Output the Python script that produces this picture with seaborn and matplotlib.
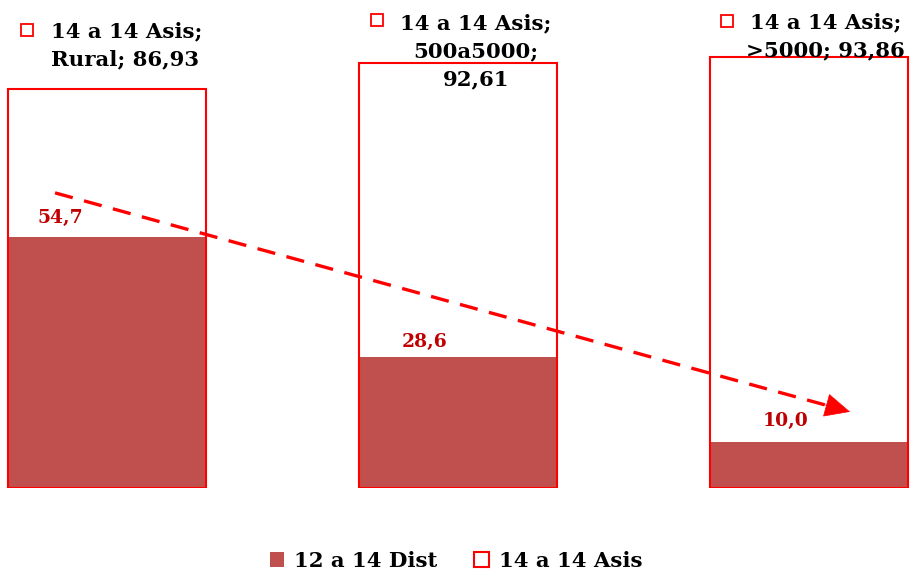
import matplotlib
matplotlib.use("Agg")
import matplotlib.pyplot as plt
from matplotlib.patches import Patch
import pandas as pd
import seaborn as sns

# --- data -------------------------------------------------------------
categories = ["Rural", "500a5000", ">5000"]
dist_12_14 = [54.7, 28.6, 10.0]      # 12 a 14 Dist
asis_14_14 = [86.93, 92.61, 93.86]   # 14 a 14 Asis
dist_labels = ["54,7", "28,6", "10,0"]
asis_labels = ["14 a 14 Asis;\nRural; 86,93",
               "14 a 14 Asis;\n500a5000;\n92,61",
               "14 a 14 Asis;\n>5000; 93,86"]
series_names = ["12 a 14 Dist", "14 a 14 Asis"]

df = pd.DataFrame({"zona": categories, "dist": dist_12_14, "asis": asis_14_14})

# --- style ------------------------------------------------------------
sns.set_theme(style="white")
plt.rcParams["font.family"] = ["DejaVu Serif", "DejaVu Sans"]
plt.rcParams["font.weight"] = "bold"
plt.rcParams["text.color"] = "black"

FILL = "#C0504D"
EDGE = "#FF0000"
LABEL_RED = "#C00000"

W, H, DPI = 912, 574, 100
fig = plt.figure(figsize=(W / DPI, H / DPI), dpi=DPI)
ymax = 105.0
px_per_unit = 4.59
ax_h = ymax * px_per_unit / H
ax_bottom = 86 / H
ax = fig.add_axes([0.0, ax_bottom, 1.0, ax_h])

bar_w = 0.564
sns.barplot(data=df, x="zona", y="dist", order=categories, color=FILL,
            width=bar_w, saturation=1, edgecolor="none", ax=ax, zorder=1)
sns.barplot(data=df, x="zona", y="asis", order=categories, color=EDGE,
            width=bar_w, saturation=1, facecolor="none", edgecolor=EDGE,
            linewidth=1.5, ax=ax, zorder=2)

step = 351.0
ax.set_xlim(-107 / step, (W - 107) / step)
ax.set_ylim(0, ymax)
ax.axis("off")

# value labels of the filled series
dist_offsets = [(-0.134, 4.1), (-0.094, 3.2), (-0.068, 4.6)]
for i, (v, txt) in enumerate(zip(dist_12_14, dist_labels)):
    dx, dy = dist_offsets[i]
    ax.text(i + dx, v + dy, txt, color=LABEL_RED, fontsize=13.5,
            fontweight="bold", ha="center", va="center", zorder=5)

# data-label callouts of the outlined series, each with its legend key
asis_text_pos = [(-0.16, 9.4, "left"), (0.051, 2.5, "center"), (0.048, 4.5, "center")]
asis_key_pos = [(-0.228, 99.8), (0.769, 102.0), (1.766, 101.7)]
for i, (v, txt) in enumerate(zip(asis_14_14, asis_labels)):
    dx, dy, ha = asis_text_pos[i]
    ax.text(i + dx, v + dy, txt, color="black", fontsize=15.3,
            fontweight="bold", ha=ha, va="center", linespacing=1.5,
            multialignment=ha, zorder=5, clip_on=False)
    kx, ky = asis_key_pos[i]
    ax.plot([kx], [ky], marker="s", markersize=8.5, markerfacecolor="white",
            markeredgecolor=EDGE, markeredgewidth=1.3, linestyle="none",
            clip_on=False, zorder=5)

# dashed trend arrow across the three groups
trend_start = (-0.148, 64.3)
trend_end = (2.117, 16.6)
frac = 0.975
line_end = (trend_start[0] + frac * (trend_end[0] - trend_start[0]),
            trend_start[1] + frac * (trend_end[1] - trend_start[1]))
ax.plot([trend_start[0], line_end[0]], [trend_start[1], line_end[1]],
        color=EDGE, linewidth=2.4, dashes=(5.5, 3.5), zorder=4,
        solid_capstyle="butt", dash_capstyle="butt")
head_from = (trend_start[0] + 0.95 * (trend_end[0] - trend_start[0]),
             trend_start[1] + 0.95 * (trend_end[1] - trend_start[1]))
ax.annotate("", xy=trend_end, xytext=head_from,
            arrowprops=dict(arrowstyle="-|>,head_length=0.85,head_width=0.4",
                            color=EDGE, lw=0.5, mutation_scale=20,
                            shrinkA=0, shrinkB=0),
            zorder=4)

# legend
handles = [Patch(facecolor=FILL, edgecolor="none"),
           Patch(facecolor="white", edgecolor=EDGE, linewidth=1.5)]
fig.legend(handles, series_names, loc="center", bbox_to_anchor=(0.5, 1 - 561 / H),
           ncol=2, frameon=False, labelcolor="black",
           prop={"family": "DejaVu Serif", "weight": "bold", "size": 15.3},
           handlelength=0.7, handleheight=0.7, handletextpad=0.45,
           columnspacing=1.75)

fig.savefig("out.png", dpi=DPI, facecolor="white")
